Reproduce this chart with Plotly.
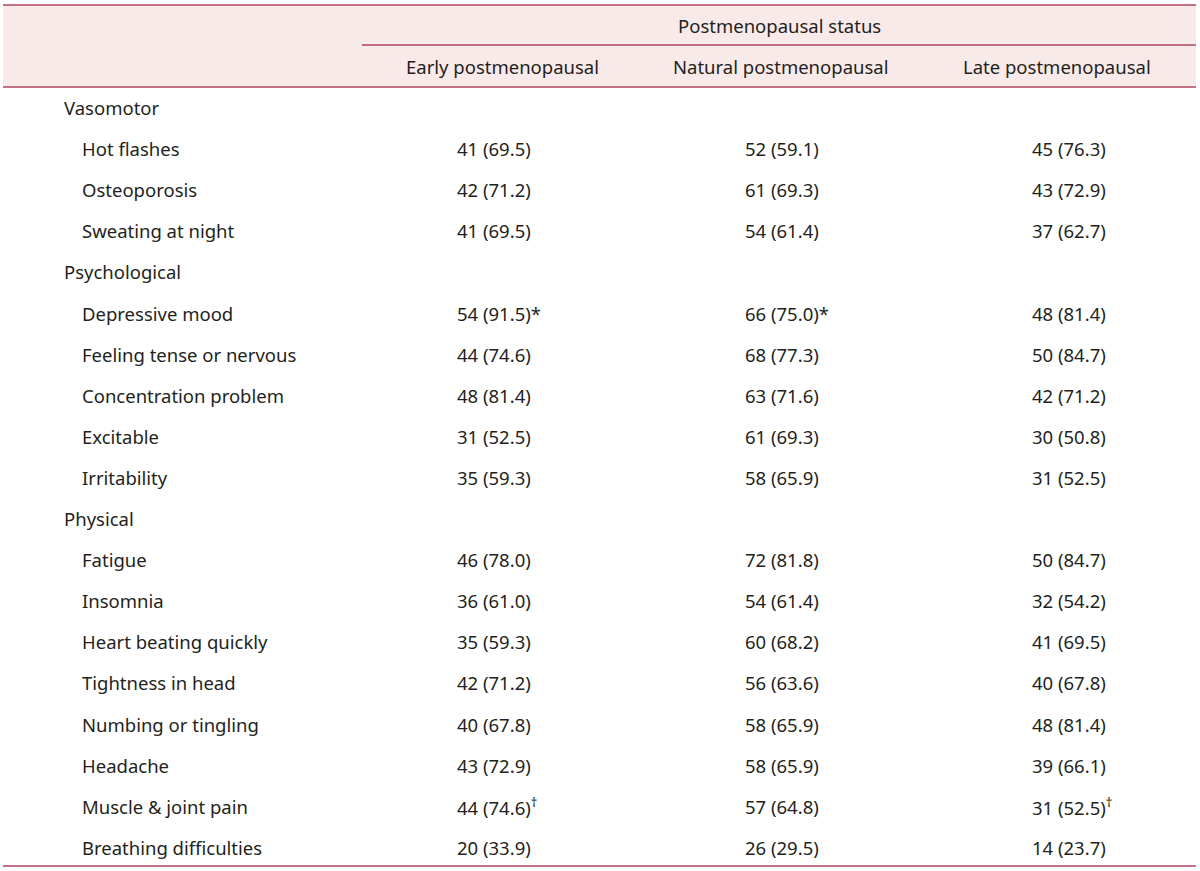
import plotly.graph_objects as go

# ---- data ----
group_header = "Postmenopausal status"
columns = ["Early postmenopausal", "Natural postmenopausal", "Late postmenopausal"]

row_labels = [
    "Vasomotor", "Hot flashes", "Osteoporosis", "Sweating at night",
    "Psychological", "Depressive mood", "Feeling tense or nervous",
    "Concentration problem", "Excitable", "Irritability",
    "Physical", "Fatigue", "Insomnia", "Heart beating quickly",
    "Tightness in head", "Numbing or tingling", "Headache",
    "Muscle & joint pain", "Breathing difficulties",
]
is_category = [True, False, False, False, True, False, False, False, False, False,
               True, False, False, False, False, False, False, False, False]

early = ["", "41 (69.5)", "42 (71.2)", "41 (69.5)", "", "54 (91.5)*", "44 (74.6)",
         "48 (81.4)", "31 (52.5)", "35 (59.3)", "", "46 (78.0)", "36 (61.0)",
         "35 (59.3)", "42 (71.2)", "40 (67.8)", "43 (72.9)", "44 (74.6)<sup>†</sup>",
         "20 (33.9)"]
natural = ["", "52 (59.1)", "61 (69.3)", "54 (61.4)", "", "66 (75.0)*", "68 (77.3)",
           "63 (71.6)", "61 (69.3)", "58 (65.9)", "", "72 (81.8)", "54 (61.4)",
           "60 (68.2)", "56 (63.6)", "58 (65.9)", "58 (65.9)", "57 (64.8)",
           "26 (29.5)"]
late = ["", "45 (76.3)", "43 (72.9)", "37 (62.7)", "", "48 (81.4)", "50 (84.7)",
        "42 (71.2)", "30 (50.8)", "31 (52.5)", "", "50 (84.7)", "32 (54.2)",
        "41 (69.5)", "40 (67.8)", "48 (81.4)", "39 (66.1)", "31 (52.5)<sup>†</sup>",
        "14 (23.7)"]

# ---- layout constants (page pixel units) ----
W, H = 1200, 871
FONT = "Noto Sans"
FS = 18.5
TXT = "#231f20"
LINE = "#b0445f"
BAND = "#f9eaea"
X_LEFT, X_RIGHT = 3, 1196
Y_TOP, Y_MID, Y_HEAD, Y_BOTTOM = 5, 45, 87, 866
X_SPAN = 362
ROW0, DY = 107.5, 41.1
COL_TEXT_X = [455, 743, 1030]
COL_HEAD_CX = [502, 780, 1057]

fig = go.Figure()
fig.add_trace(go.Scatter(x=[0, W], y=[0, H], mode="markers",
                         marker=dict(opacity=0), hoverinfo="skip", showlegend=False))

shapes = [
    dict(type="rect", x0=X_LEFT, x1=X_RIGHT, y0=Y_TOP, y1=Y_HEAD,
         fillcolor=BAND, line=dict(width=0), layer="below"),
    dict(type="line", x0=X_LEFT, x1=X_RIGHT, y0=Y_TOP, y1=Y_TOP, line=dict(color=LINE, width=1.5)),
    dict(type="line", x0=X_SPAN, x1=X_RIGHT, y0=Y_MID, y1=Y_MID, line=dict(color=LINE, width=1.5)),
    dict(type="line", x0=X_LEFT, x1=X_RIGHT, y0=Y_HEAD, y1=Y_HEAD, line=dict(color=LINE, width=1.5)),
    dict(type="line", x0=X_LEFT, x1=X_RIGHT, y0=Y_BOTTOM, y1=Y_BOTTOM, line=dict(color=LINE, width=1.5)),
]

ann = []
def add(text, x, y, anchor="left"):
    ann.append(dict(text=text, x=x, y=y, xref="x", yref="y", showarrow=False,
                    xanchor=anchor, yanchor="middle",
                    font=dict(family=FONT, size=FS, color=TXT)))

add(group_header, (X_SPAN + X_RIGHT) / 2, (Y_TOP + Y_MID) / 2, "center")
for cx, name in zip(COL_HEAD_CX, columns):
    add(name, cx, (Y_MID + Y_HEAD) / 2, "center")

for i, (lab, cat) in enumerate(zip(row_labels, is_category)):
    y = ROW0 + i * DY
    add(lab, 62 if cat else 80, y)
    for xs, vals in zip(COL_TEXT_X, (early, natural, late)):
        if vals[i]:
            add(vals[i], xs, y)

fig.update_layout(
    width=W, height=H, margin=dict(l=0, r=0, t=0, b=0),
    paper_bgcolor="white", plot_bgcolor="white",
    xaxis=dict(range=[0, W], visible=False, fixedrange=True),
    yaxis=dict(range=[H, 0], visible=False, fixedrange=True),
    shapes=shapes, annotations=ann, showlegend=False, hovermode=False,
)
fig.write_html("out.html",
               config={"displayModeBar": False, "staticPlot": True},
               post_script="document.body.style.margin='0';document.body.style.overflow='hidden';")
